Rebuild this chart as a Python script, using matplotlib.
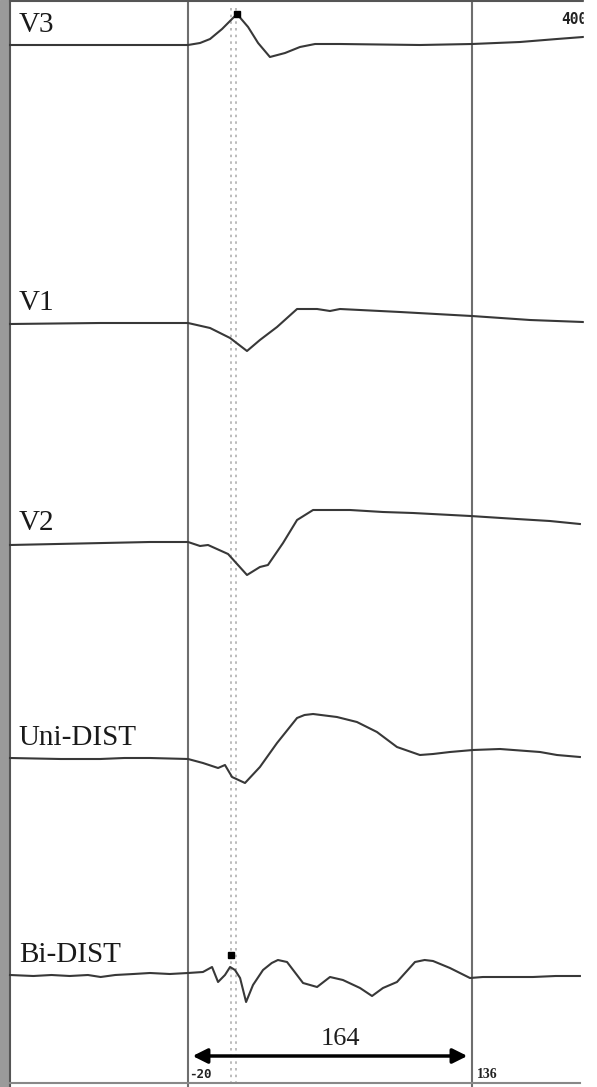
import matplotlib.pyplot as plt

# Channel names and vertical offsets of each baseline (plot units, y grows downward)
channels = ["V3", "V1", "V2", "Uni-DIST", "Bi-DIST"]
offsets = [45, 323, 543, 758, 975]

# time (ms) / amplitude (arb. units, up positive)
v3_t = [-117.8, -68.3, -20, -13.4, -7.9, -1.3, 6.9, 13.0, 18.5, 25.0, 33.3, 41.5, 49.8,
        63.5, 107.4, 136.0, 162.4, 182.7, 197.0]
v3_a = [0, 0, 0, 2, 6, 16, 31, 18, 2, -12, -8, -2, 1, 1, 0, 1, 3, 6, 8]

v1_t = [-117.8, -68.3, -20, -7.9, 3.1, 12.4, 19.5, 28.9, 39.9, 50.9, 58.0, 63.5, 96.5,
        136.0, 167.9, 197.0]
v1_a = [-1, 0, 0, -5, -15, -28, -17, -4, 14, 14, 12, 14, 11, 7, 3, 1]

v2_t = [-117.8, -40.9, -20, -13.4, -9.0, 2.0, 12.4, 19.5, 23.9, 32.2, 39.9, 48.7, 69.0,
        87.1, 103.6, 134.9, 160.7, 178.8, 195.3]
v2_a = [-2, 1, 1, -3, -2, -11, -32, -24, -22, 0, 23, 33, 33, 31, 30, 27, 24, 22, 19]

uni_t = [-117.8, -90, -68.3, -55, -40.9, -20, -11.8, -3.5, 0.3, 4.2, 11.3, 19.5, 28.9,
         39.9, 44.0, 48.7, 61.8, 72.8, 83.8, 94.8, 107.4, 114.6, 123.9, 136.6, 151.4,
         173.4, 182.7, 195.3]
uni_a = [0, -1, -1, 0, 0, -1, -5, -10, -7, -19, -25, -9, 15, 40, 43, 44, 41, 36, 26, 11,
         3, 4, 6, 8, 9, 6, 3, 1]

bi_t = [-117.8, -105, -95, -85, -75, -68, -60, -50, -40.9, -30, -20, -11.8, -6.8, -3.5,
        0.3, 3.1, 5.8, 8.6, 11.9, 15.7, 21.2, 26.0, 29.4, 34.4, 43.2, 50.9, 58.0, 65.1,
        74.5, 81.1, 87.1, 94.8, 104.7, 110.0, 114.6, 123.9, 134.9, 142.0, 155, 169.5,
        182, 195.3]
bi_a = [0, -1, 0, -1, 0, -2, 0, 1, 2, 1, 2, 3, 8, -7, 0, 8, 5, -3, -27, -10, 5, 12, 15,
        13, -8, -12, -2, -5, -13, -21, -13, -7, 13, 15, 14, 7, -3, -2, -2, -2, -1, -1]

traces = [(v3_t, v3_a), (v1_t, v1_a), (v2_t, v2_a), (uni_t, uni_a), (bi_t, bi_a)]

# markers (time, amplitude) on V3 and Bi-DIST
v3_mark = (6.9, 31)
bi_mark = (3.6, 20)

cursor_left, cursor_right = -20, 136
dotted_x = [3.6, 6.6]
interval_label = "164"

fig = plt.figure(figsize=(5.97, 10.87), dpi=100)
ax = fig.add_axes([0, 0, 1, 1])
ax.set_xlim(-123.3, 204.7)
ax.set_ylim(1087, 0)
ax.axis("off")

# frame of the display panel
ax.axvspan(-123.3, -118.3, color="#9a9a9a", zorder=0)
ax.axvline(-117.9, color="#555555", lw=1.5)
ax.plot([-117.9, 197.0], [1, 1], color="#555555", lw=1.5)
ax.plot([-117.9, 195.5], [1083, 1083], color="#888888", lw=1.5)

# cursors
for x in [cursor_left, cursor_right]:
    ax.axvline(x, color="#6e6e6e", lw=1.5, zorder=1)
for x in dotted_x:
    ax.plot([x, x], [8, 1087], color="#b0b0b0", lw=1.2, ls=(0, (1.5, 2.5)), zorder=1)

serif = ["Liberation Serif", "DejaVu Serif"]
for name, off, (t, a) in zip(channels, offsets, traces):
    ax.plot(t, [off - v for v in a], color="#383838", lw=1.5, zorder=3)
    ax.text(-113.0, off - 7, name, fontsize=21, family=serif, color="#1a1a1a",
            ha="left", va="bottom")

ax.plot(v3_mark[0], offsets[0] - v3_mark[1], "s", color="black", ms=5, zorder=4)
ax.plot(bi_mark[0], offsets[4] - bi_mark[1], "s", color="black", ms=5, zorder=4)

# interval arrow
ax.annotate("", xy=(cursor_left + 1, 1056), xytext=(cursor_right - 1, 1056),
            arrowprops=dict(arrowstyle="<|-|>", color="black", lw=2.5, mutation_scale=22))
ax.text((cursor_left + cursor_right) / 2 + 6, 1050, interval_label, fontsize=19,
        family=serif, color="#1e1e1e", ha="center", va="bottom")
ax.text(cursor_left + 0.5, 1074, "-20", fontsize=9, family="DejaVu Sans Mono",
        weight="bold", color="#222222", ha="left", va="center")
ax.text(cursor_right + 2.5, 1075, "136", fontsize=10, family=serif,
        weight="bold", color="#222222", ha="left", va="center")
ax.text(184.8, 19, "400", fontsize=10.5, family="DejaVu Sans Mono", weight="bold",
        color="#222222", ha="left", va="center", zorder=2)
# white margin on the right of the panel hides the cut-off readout
ax.axvspan(197.6, 204.7, color="white", zorder=5)

fig.savefig("out.png", dpi=100, facecolor="white")
